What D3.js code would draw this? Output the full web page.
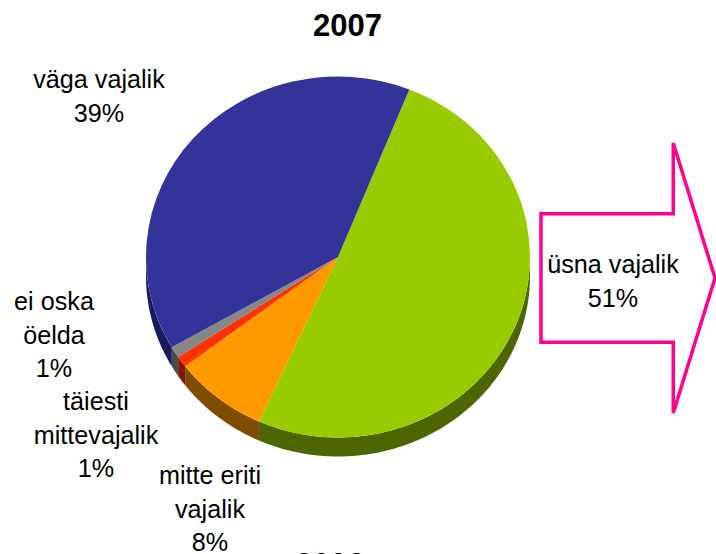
<!DOCTYPE html>
<html><head><meta charset="utf-8">
<script src="https://cdn.jsdelivr.net/npm/d3@7"></script>
<style>html,body{margin:0;background:#fff}svg{display:block}text{font-family:"Liberation Sans",Arial,sans-serif;fill:#000}</style>
</head><body><svg id="c" width="716" height="554"></svg>
<script>
const categories = ["üsna vajalik","mitte eriti vajalik","täiesti mittevajalik","ei oska öelda","väga vajalik"];
const sliceValues = [50.7,7.9,1,1,39.4];
const percentLabels = ["51%","8%","1%","1%","39%"];
const topColors = ["#99cc00","#ff9900","#ff3300","#868686","#333399"];
const sideColors = ["#4d6600","#804d00","#801a00","#4b4b4b","#1a1a5e"];
const labelLines = [["üsna vajalik"],["mitte eriti","vajalik"],["täiesti","mittevajalik"],["ei oska","öelda"],["väga vajalik"]];
const labelPos = [[613,273],[210,484],[96,410],[54,310],[99,88]];
const title = "2007";
const nextTitle = "2006";

const W=716,H=554,cx=338,cy=257,rx=192,ry=180.5,depth=19;
const svg=d3.select("#c");
svg.append("text").attr("x",347.5).attr("y",36).attr("text-anchor","middle").attr("font-size",31).attr("font-weight","bold").text(title);

const start=21.8*Math.PI/180;
const arcs=d3.pie().sort(null).startAngle(start).endAngle(start+2*Math.PI)(sliceValues);
const xs=d3.scaleLinear().domain([-1,1]).range([cx-rx,cx+rx]);
const ys=d3.scaleLinear().domain([-1,1]).range([cy-ry,cy+ry]);
const sideG=svg.append("g"),topG=svg.append("g");
const lo=Math.PI/2,hi=3*Math.PI/2;
arcs.forEach((a,i)=>{
  const a0=Math.max(a.startAngle,lo),a1=Math.min(a.endAngle,hi);
  if(a1<=a0) return;
  const n=Math.max(2,Math.ceil((a1-a0)*60));
  const pts=d3.range(n+1).map(k=>a0+(a1-a0)*k/n).map(t=>[xs(Math.sin(t)),ys(-Math.cos(t))]);
  const ring=pts.concat(pts.slice().reverse().map(p=>[p[0],p[1]+depth]));
  sideG.append("path").attr("d",d3.line()(ring)+"Z").attr("fill",sideColors[i]);
});
const arc=d3.arc().innerRadius(0).outerRadius(rx);
topG.selectAll("path").data(arcs).join("path")
  .attr("transform",`translate(${cx},${cy}) scale(1,${ry/rx})`)
  .attr("d",arc).attr("fill",(d,i)=>topColors[i]);

const ax=d3.scaleLinear().domain([0,1]).range([541,715]);
const ay=d3.scaleLinear().domain([0,1]).range([143,413]);
const arrowShape=[[0,.262],[.76,.262],[.76,0],[1,.5],[.76,1],[.76,.738],[0,.738]];
svg.append("path").attr("d",d3.line().x(d=>ax(d[0])).y(d=>ay(d[1]))(arrowShape)+"Z")
  .attr("fill","#fff").attr("stroke","#ff0090").attr("stroke-width",3.5);

const fs=25.2,lh=33.7;
categories.forEach((c,i)=>{
  const t=svg.append("text").attr("text-anchor","middle").attr("font-size",fs);
  const lines=labelLines[i].concat(percentLabels[i]);
  lines.forEach((l,k)=>t.append("tspan").attr("x",labelPos[i][0]).attr("y",labelPos[i][1]+k*lh).text(l));
});
svg.append("text").attr("x",330).attr("y",575).attr("text-anchor","middle").attr("font-size",31).attr("font-weight","bold").text(nextTitle);
</script></body></html>
